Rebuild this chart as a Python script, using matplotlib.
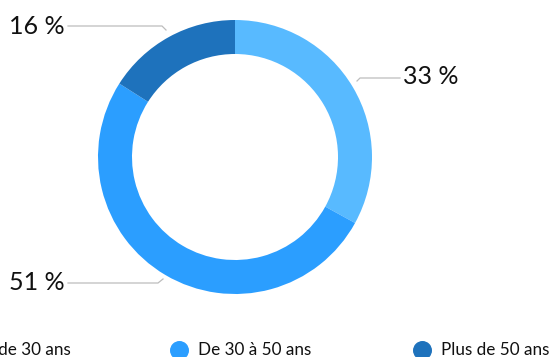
import matplotlib
matplotlib.use("Agg")
import matplotlib.pyplot as plt

categories = ["Moins de 30 ans", "De 30 à 50 ans", "Plus de 50 ans"]
values = [33, 51, 16]
labels = ["33 %", "51 %", "16 %"]
colors = ["#58BAFF", "#2B9EFF", "#1E72BC"]

W, H = 552, 357
fig = plt.figure(figsize=(W / 100, H / 100), dpi=100)
ax = fig.add_axes([0, 0, 1, 1])
plt.rcParams["font.family"] = ["Lato", "DejaVu Sans"]

cx, cy, r = 235, H - 157, 137
ax.pie(values, colors=colors, startangle=90, counterclock=False,
       center=(cx, cy), radius=r, frame=True,
       wedgeprops=dict(width=34, linewidth=0))
ax.set_xlim(0, W)
ax.set_ylim(0, H)
ax.set_aspect("equal")
ax.axis("off")

line_kw = dict(color="#BDBDBD", lw=0.9)
label_pos = {
    "33 %": dict(line=[(357, 81), (360, 78), (400, 78)], text=(403, 77), ha="left"),
    "51 %": dict(line=[(163, 279), (158, 283), (68, 283)], text=(65, 283), ha="right"),
    "16 %": dict(line=[(166, 30), (162, 26), (68, 26)], text=(65, 26), ha="right"),
}
for lab in labels:
    p = label_pos[lab]
    xs = [q[0] for q in p["line"]]
    ys = [H - q[1] for q in p["line"]]
    ax.plot(xs, ys, **line_kw)
    ax.text(p["text"][0], H - p["text"][1], lab, ha=p["ha"], va="center",
            fontsize=18, color="#111111")

# legend (marker x positions in pixels; first item runs off the left edge)
leg_marker_x = [-72, 179, 422]
leg_y = H - 350
for mx, cat, col in zip(leg_marker_x, categories, colors):
    ax.scatter([mx], [leg_y], s=160, color=col, clip_on=False, zorder=3)
    ax.text(mx + 19, leg_y, cat, ha="left", va="center", fontsize=12.3,
            color="#111111")

fig.savefig("out.png", dpi=100)
